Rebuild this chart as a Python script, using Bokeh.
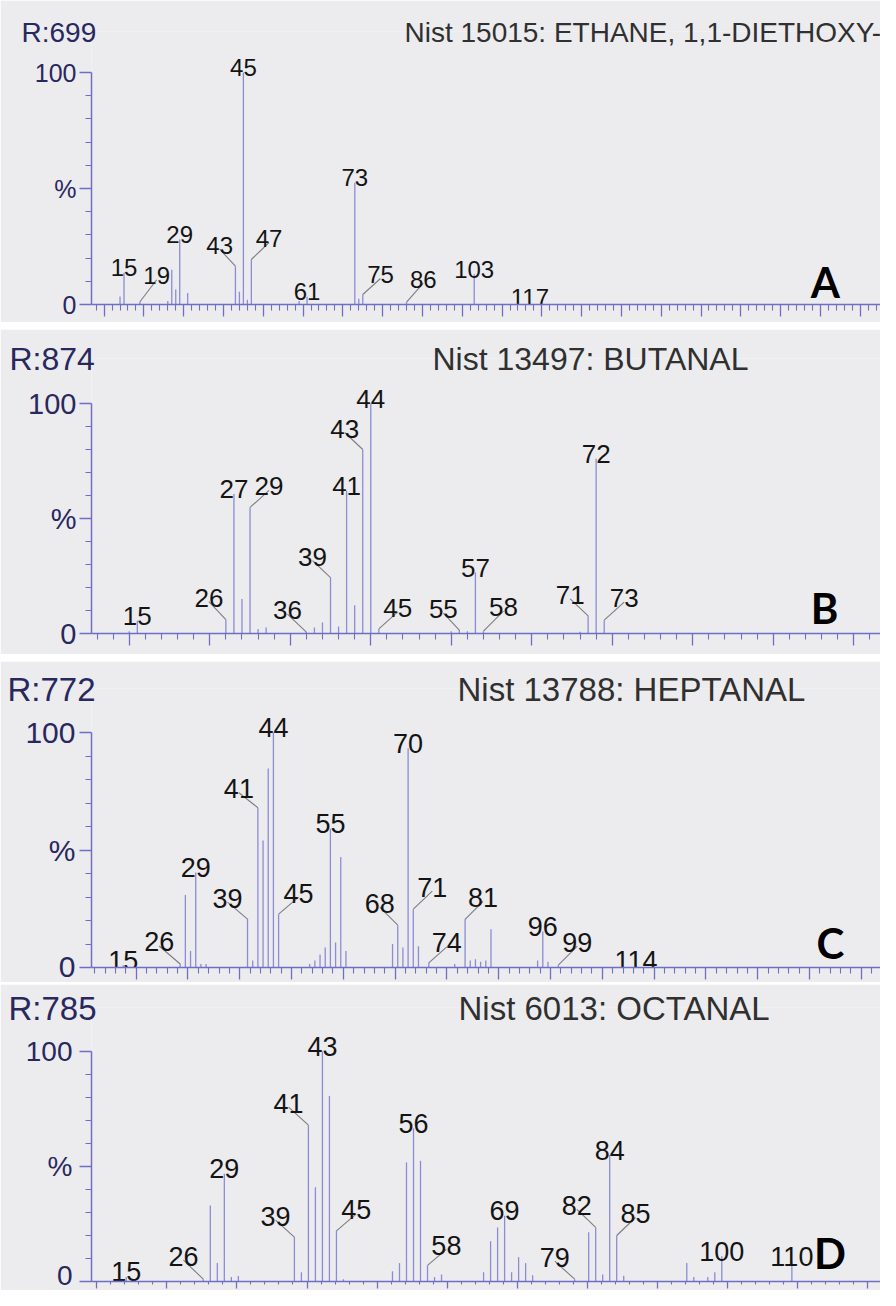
from bokeh.plotting import figure
from bokeh.models import ColumnDataSource, FixedTicker, Label, Spacer, Title, CustomJSTickFormatter
from bokeh.layouts import column
from bokeh.core.properties import value
from bokeh.embed import file_html
from bokeh.resources import INLINE

# ---------------- data (m/z, relative intensity %) ----------------
A_run = "R:699"
A_title = "Nist 15015: ETHANE, 1,1-DIETHOXY-"
A_mz = [14, 15, 19, 26, 27, 28, 29, 31, 43, 44, 45, 46, 47, 59, 61, 73, 74, 75, 86, 103, 117]
A_int = [3.5, 13.7, 1.2, 1.5, 15, 6.5, 28, 5, 16.5, 5.5, 100, 2, 19.4, 1.5, 3.3, 52.5, 2.5, 4.3, 1, 13, 0.8]
A_labeled = [15, 19, 29, 43, 45, 47, 61, 73, 75, 86, 103, 117]

B_run = "R:874"
B_title = "Nist 13497: BUTANAL"
B_mz = [14, 15, 26, 27, 28, 29, 30, 31, 36, 37, 38, 39, 40, 41, 42, 43, 44, 45, 54, 55, 56, 57, 58, 70, 71, 72, 73]
B_int = [1, 5.5, 6, 60.6, 15, 54.8, 2, 2.6, 0.6, 2.6, 4.8, 24.3, 3, 62, 12.3, 80, 100, 2, 1, 1.5, 1, 26.5, 1, 0.8, 7.7, 76, 5.8]
B_labeled = [15, 26, 27, 29, 36, 39, 41, 43, 44, 45, 55, 57, 58, 71, 72, 73]

C_run = "R:772"
C_title = "Nist 13788: HEPTANAL"
C_mz = [15, 26, 27, 28, 29, 30, 31, 39, 40, 41, 42, 43, 44, 45, 51, 52, 53, 54, 55, 56, 57, 58,
        67, 68, 69, 70, 71, 72, 74, 79, 81, 82, 83, 84, 85, 86, 95, 96, 97, 99, 114]
C_int = [1, 1.5, 30.8, 7, 40.4, 1.5, 1.5, 20.6, 3, 68, 54, 84.7, 100, 22.7, 1.5, 3, 5.5, 8.5, 59, 10.6, 47, 7,
         10, 18, 8.5, 93.3, 24.8, 9, 2, 1.5, 20.5, 3, 3.5, 2.5, 3, 16.3, 3, 15.3, 2.5, 1, 1]
C_labeled = [15, 26, 29, 39, 41, 44, 45, 55, 68, 70, 71, 74, 81, 96, 99, 114]

D_run = "R:785"
D_title = "Nist 6013: OCTANAL"
D_mz = [15, 26, 27, 28, 29, 30, 31, 39, 40, 41, 42, 43, 44, 45, 46, 53, 54, 55, 56, 57, 58, 59, 60,
        66, 67, 68, 69, 70, 71, 72, 73, 79, 81, 82, 83, 84, 85, 86, 95, 96, 98, 99, 100, 110]
D_int = [2, 1, 33, 8, 46.8, 2, 2.4, 19.3, 4, 68, 41, 100, 80.7, 22, 1, 4.5, 8, 51.8, 66.6, 52.5, 7, 2, 3,
         4, 17.5, 23.5, 28.6, 4, 10.6, 8, 2.7, 1, 21.4, 23.5, 3, 55, 20, 2.5, 8, 2, 2, 4, 11, 8.7]
D_labeled = [15, 26, 29, 39, 41, 43, 45, 56, 58, 69, 79, 82, 84, 85, 100, 110]

Y_TICKS = [0, 50, 100]
Y_TICK_LABELS = {0: "0", 50: "%", 100: "100"}

# ---------------- layout / style (page pixels) ----------------
# leader lines: m/z -> (horizontal offset px, rise px)
A_leaders = {19: (17, 22), 43: (-16, 17), 47: (18, 17), 75: (18, 16), 86: (17, 19)}
B_leaders = {26: (-17, 18), 29: (19, 17), 36: (-19, 18), 39: (-18, 17), 43: (-18, 17),
             45: (19, 17), 55: (-16, 17), 58: (20, 20), 71: (-18, 17), 73: (20, 18)}
C_leaders = {26: (-21, 18), 39: (-20, 17), 41: (-19, 15), 45: (20, 17), 68: (-18, 18),
             71: (19, 18), 74: (18, 16), 81: (18, 18), 99: (19, 19)}
D_leaders = {26: (-20, 19), 39: (-19, 17), 41: (-20, 18), 45: (20, 17), 58: (19, 16),
             79: (-20, 18), 82: (-19, 18), 85: (19, 18)}

PANELS = [
    dict(run=A_run, title=A_title, mz=A_mz, inten=A_int, labeled=A_labeled, leaders=A_leaders, letter="A",
         top=8, height=322, axis_x=87, y0=312, y100=80, a=59.4, b=4.04, tick_off=0.0, tick_out=12,
         fs_head=28, fs_peak=24, fs_y=25, y_standoff=3,
         head_base=42, run_x=17, title_x=400, letter_xy=(832, 289)),
    dict(run=B_run, title=B_title, mz=B_mz, inten=B_int, labeled=B_labeled, leaders=B_leaders, letter="B",
         top=337, height=325, axis_x=97, y0=641, y100=411, a=21.9, b=8.07, tick_off=4.0, tick_out=12,
         fs_head=32, fs_peak=26, fs_y=29, y_standoff=3,
         head_base=368, run_x=15, title_x=438, letter_xy=(832, 615)),
    dict(run=C_run, title=C_title, mz=C_mz, inten=C_int, labeled=C_labeled, leaders=C_leaders, letter="C",
         top=669, height=321, axis_x=99, y0=975, y100=740, a=53.0, b=5.18, tick_off=7.5, tick_out=12,
         fs_head=33, fs_peak=27, fs_y=30, y_standoff=4,
         head_base=698, run_x=15, title_x=465, letter_xy=(838, 950)),
    dict(run=D_run, title=D_title, mz=D_mz, inten=D_int, labeled=D_labeled, leaders=D_leaders, letter="D",
         top=992, height=306, axis_x=93, y0=1289, y100=1059, a=22.1, b=7.06, tick_off=0.8, tick_out=7,
         fs_head=33, fs_peak=27, fs_y=28, y_standoff=7,
         head_base=1017, run_x=10, title_x=460, letter_xy=(837, 1260)),
]

FIG_W = 880
RIGHT_EDGE = 888
BG = "#ececef"
AXIS_COLOR = "#6e6ec4"
PEAK_COLOR = "#8c8cd6"
LEADER_COLOR = "#7c7c84"
LABEL_COLOR = "#141414"
NAVY = "#28285e"
FONT = "Liberation Sans"
HEAD_SHIFT = 9   # titles are drawn this many px below the frame's top edge


def build(cfg):
    a, b = cfg["a"], cfg["b"]
    y0, y100, top = cfg["y0"], cfg["y100"], cfg["top"]
    fs = cfg["fs_head"]
    frame_top = cfg["head_base"] + round(0.21 * fs) - HEAD_SHIFT
    uy = 100.0 / (y0 - y100)          # data units per px (y)
    ux = 1.0 / b                      # data units per px (x)
    x_start = (cfg["axis_x"] - a) / b
    x_end = (RIGHT_EDGE - a) / b
    y_end = (y0 - frame_top) * uy

    def xd(px):
        return (px - a) / b

    def yd(py):
        return (y0 - py) * uy

    p = figure(width=FIG_W, height=cfg["height"], x_range=(x_start, x_end), y_range=(0, y_end),
               output_backend="svg", toolbar_location=None, title=None,
               min_border_left=cfg["axis_x"] - 8, min_border_right=0,
               min_border_top=frame_top - top,
               min_border_bottom=top + cfg["height"] - y0)
    p.background_fill_color = BG
    p.border_fill_color = BG
    p.outline_line_color = None
    p.xgrid.visible = False
    p.ygrid.visible = False

    # header texts: zero-height titles sitting on the frame's top edge
    for txt, px, col in ((cfg["run"], cfg["run_x"], NAVY), (cfg["title"], cfg["title_x"], "#303030")):
        p.add_layout(Title(text=txt, align="left", offset=px - cfg["axis_x"], vertical_align="bottom",
                           standoff=-(2 + 1.12 * fs), text_font=FONT, text_font_size=f"{fs}px",
                           text_font_style="normal", text_color=col), "above")

    # peaks
    src = ColumnDataSource(dict(mz=cfg["mz"], inten=cfg["inten"], zero=[0] * len(cfg["mz"])))
    p.segment(x0="mz", y0="zero", x1="mz", y1="inten", source=src, line_color=PEAK_COLOR, line_width=1.3)

    # peak labels and leader lines
    lookup = dict(zip(cfg["mz"], cfg["inten"]))
    lx, ly, lt = [], [], []
    sx0, sy0, sx1, sy1 = [], [], [], []
    for m in cfg["labeled"]:
        h = lookup[m]
        if m in cfg["leaders"]:
            dx, rise = cfg["leaders"][m]
            ex, ey = m + dx * ux, h + rise * uy
            sx0.append(m); sy0.append(h); sx1.append(ex); sy1.append(ey)
            lx.append(ex); ly.append(ey + 4 * uy)
        else:
            lx.append(m); ly.append(h + 5 * uy)
        lt.append(str(m))
    p.segment(x0=sx0, y0=sy0, x1=sx1, y1=sy1, line_color=LEADER_COLOR, line_width=1.1)
    p.text(x=lx, y=ly, text=lt, text_font=value(FONT), text_font_size=value(f"{cfg['fs_peak']}px"),
           text_align="center", text_baseline="alphabetic", text_color=LABEL_COLOR)

    # axes
    majors = [cfg["tick_off"] + 10 * k for k in range(0, 25) if x_start - 0.01 <= cfg["tick_off"] + 10 * k <= x_end]
    minors = [cfg["tick_off"] + 2 * k for k in range(0, 125)
              if x_start - 0.01 <= cfg["tick_off"] + 2 * k <= x_end and k % 5 != 0]
    xa = p.xaxis[0]
    xa.ticker = FixedTicker(ticks=majors, minor_ticks=minors)
    xa.formatter = CustomJSTickFormatter(code="return ''")
    xa.major_label_text_font_size = "1px"
    xa.major_label_text_color = None
    xa.major_label_standoff = 0
    xa.major_tick_out = cfg["tick_out"]
    xa.minor_tick_out = cfg["tick_out"] // 2
    ya = p.yaxis[0]
    ya.ticker = FixedTicker(ticks=Y_TICKS, minor_ticks=[10, 20, 30, 40, 60, 70, 80, 90])
    ya.major_label_overrides = Y_TICK_LABELS
    ya.bounds = (0, 100)
    ya.major_tick_out = 12
    ya.minor_tick_out = 6
    ya.major_label_standoff = cfg["y_standoff"]
    ya.major_label_text_font = FONT
    ya.major_label_text_font_size = f"{cfg['fs_y']}px"
    ya.major_label_text_color = NAVY
    for ax in (xa, ya):
        ax.axis_line_color = AXIS_COLOR
        ax.axis_line_width = 1.5
        ax.major_tick_line_color = AXIS_COLOR
        ax.minor_tick_line_color = AXIS_COLOR
        ax.major_tick_line_width = 1.3
        ax.minor_tick_line_width = 1.1
        ax.major_tick_in = 0
        ax.minor_tick_in = 0

    # panel letter
    gx, gy = cfg["letter_xy"]
    p.add_layout(Label(x=xd(gx), y=yd(gy), text=cfg["letter"], text_font="Lato",
                       text_font_style="bold", text_font_size="42px", text_color="#000000",
                       text_align="center", text_baseline="alphabetic"))
    return p


figs = [build(c) for c in PANELS]
layout = column(figs[0], Spacer(width=FIG_W, height=7), figs[1], Spacer(width=FIG_W, height=7),
                figs[2], Spacer(width=FIG_W, height=2), figs[3], spacing=0)

open("out.html", "w").write(file_html(layout, INLINE))
